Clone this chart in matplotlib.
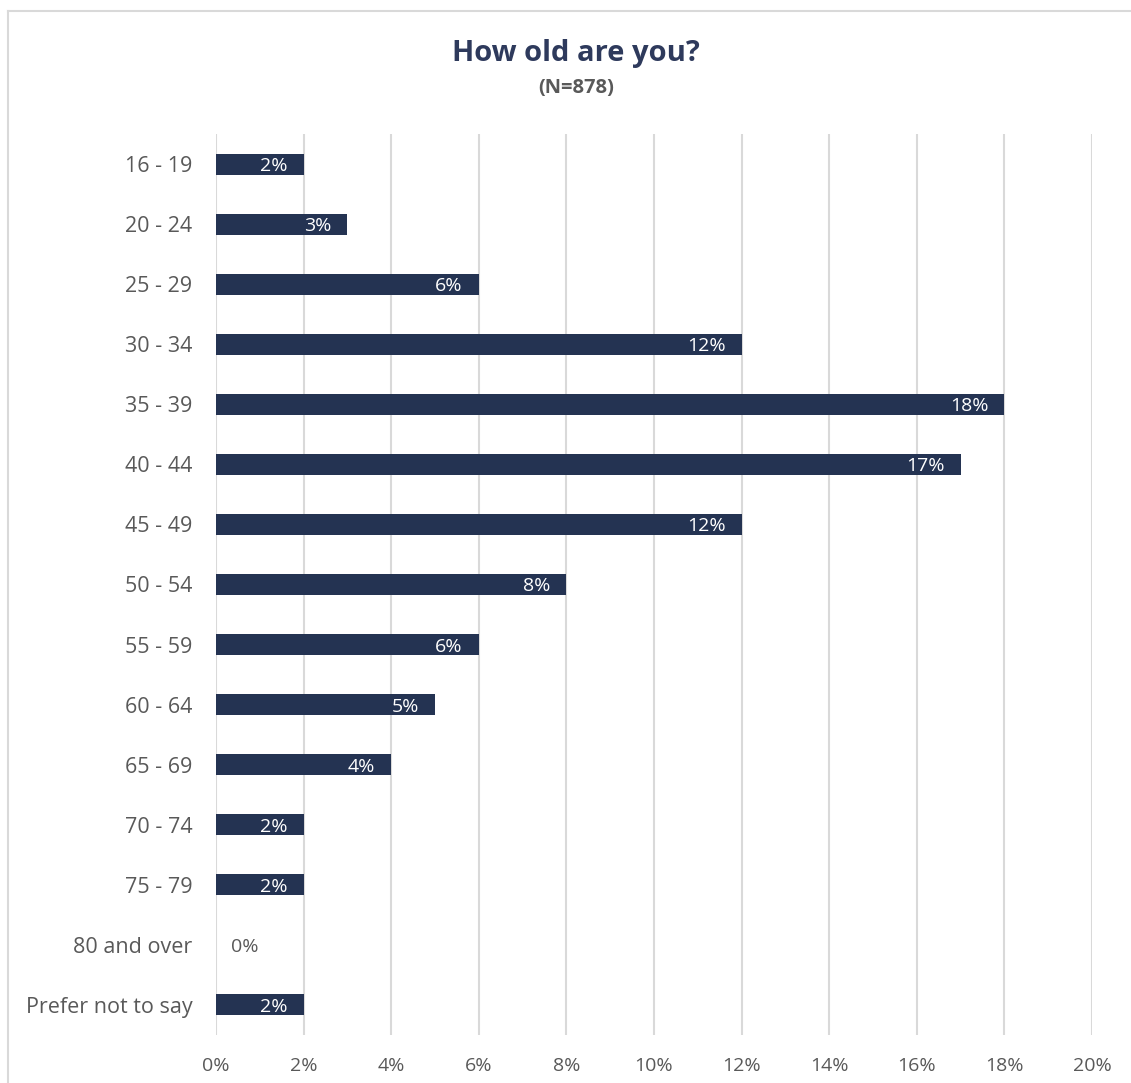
import matplotlib.pyplot as plt
from matplotlib.lines import Line2D

plt.rcParams['font.family'] = ['Open Sans', 'DejaVu Sans']

# age groups and share of respondents (%)
ages = ['16 - 19', '20 - 24', '25 - 29', '30 - 34', '35 - 39', '40 - 44', '45 - 49',
        '50 - 54', '55 - 59', '60 - 64', '65 - 69', '70 - 74', '75 - 79',
        '80 and over', 'Prefer not to say']
shares = [2, 3, 6, 12, 18, 17, 12, 8, 6, 5, 4, 2, 2, 0, 2]
xticks = [0, 2, 4, 6, 8, 10, 12, 14, 16, 18, 20]

navy = '#243352'
grey = '#595959'

fig = plt.figure(figsize=(11.31, 10.83), dpi=100)
ax = fig.add_axes([216 / 1131, 1 - 1035 / 1083, (1092 - 216) / 1131, (1035 - 134) / 1083])

y = list(range(len(ages)))
ax.barh(y, shares, height=0.35, color=navy, zorder=3)

for yi, v in zip(y, shares):
    if v > 0:
        ax.text(v - 0.37, yi, f'{v}%', color='white', fontsize=14,
                ha='right', va='center_baseline', zorder=4)
    else:
        ax.text(0.35, yi, f'{v}%', color=grey, fontsize=14,
                ha='left', va='center_baseline', zorder=4)

ax.set_ylim(len(ages) - 0.5, -0.5)
ax.set_xlim(0, 20)
ax.set_yticks(y)
ax.set_yticklabels(ages, fontsize=15.5, color=grey)
ax.set_xticks(xticks)
ax.set_xticklabels([f'{t}%' for t in xticks], fontsize=14, color=grey)
ax.tick_params(axis='both', length=0)
ax.tick_params(axis='y', pad=17)
ax.tick_params(axis='x', pad=16)
ax.grid(axis='x', color='#d9d9d9', linewidth=1.5, zorder=0)
for s in ax.spines.values():
    s.set_visible(False)

fig.text(576 / 1131, 1 - 53 / 1083, 'How old are you?', ha='center', va='center',
         fontsize=21, fontweight='bold', color='#2e3a5c')
fig.text(576 / 1131, 1 - 88 / 1083, '(N=878)', ha='center', va='center',
         fontsize=14.5, fontweight='bold', color=grey)

# chart frame (top and left edges)
fig.add_artist(Line2D([8 / 1131, 1], [1 - 11 / 1083, 1 - 11 / 1083], color='#d9d9d9', linewidth=1.5))
fig.add_artist(Line2D([8 / 1131, 8 / 1131], [0, 1 - 11 / 1083], color='#d9d9d9', linewidth=1.5))

fig.savefig('out.png', dpi=100)
